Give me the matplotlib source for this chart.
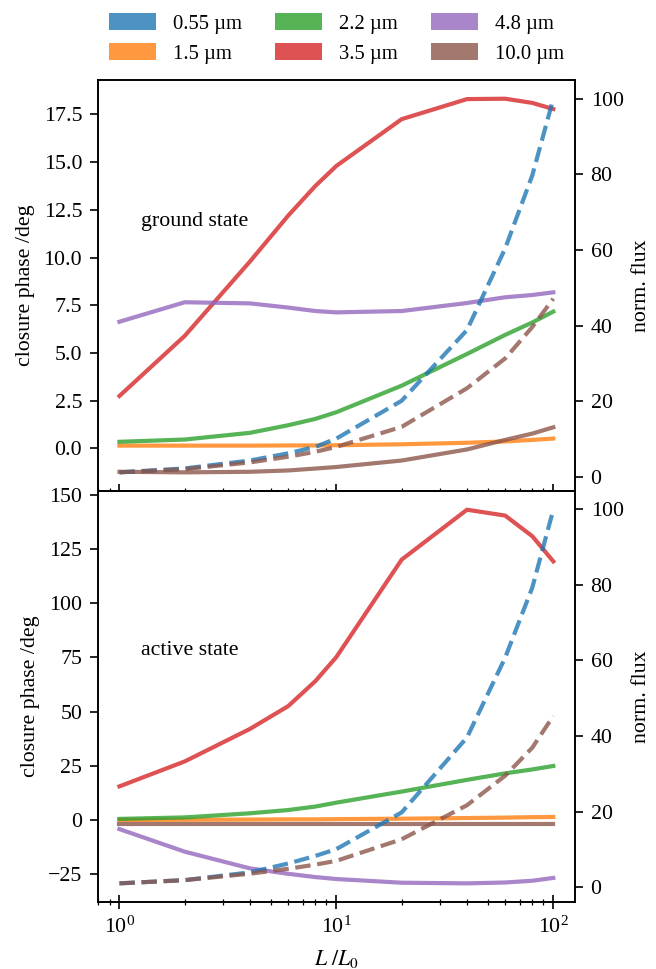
import matplotlib
matplotlib.use("Agg")
import matplotlib.pyplot as plt
from matplotlib.patches import Patch

plt.rcParams['font.family'] = ['Liberation Serif', 'DejaVu Serif']
plt.rcParams['mathtext.fontset'] = 'stix'
plt.rcParams['font.size'] = 10.5

# luminosity steps
L = [1, 2, 4, 6, 8, 10, 20, 40, 60, 80, 100]
labels = ['0.55 µm', '1.5 µm', '2.2 µm', '3.5 µm', '4.8 µm', '10.0 µm']
colors = ['tab:blue', 'tab:orange', 'tab:green', 'tab:red', 'tab:purple', 'tab:brown']

# ground state closure phase (deg)
cp_g_15 = [0.15, 0.15, 0.15, 0.16, 0.16, 0.17, 0.22, 0.30, 0.37, 0.45, 0.52]
cp_g_22 = [0.35, 0.47, 0.82, 1.22, 1.55, 1.90, 3.29, 4.95, 5.95, 6.60, 7.17]
cp_g_35 = [2.75, 5.9, 9.8, 12.2, 13.75, 14.8, 17.25, 18.3, 18.32, 18.1, 17.78]
cp_g_48 = [6.64, 7.66, 7.60, 7.38, 7.20, 7.13, 7.20, 7.62, 7.92, 8.04, 8.18]
cp_g_100 = [-1.22, -1.25, -1.22, -1.15, -1.05, -0.97, -0.63, -0.05, 0.45, 0.78, 1.11]
# ground state normalised flux
fl_g_055 = [1.16, 2.2, 4.3, 6.2, 7.9, 10.1, 20.1, 38.8, 60.4, 79.7, 100.0]
fl_g_100 = [1.16, 2.0, 3.8, 5.3, 6.6, 7.9, 13.2, 23.4, 31.3, 39.6, 47.1]

# active state closure phase (deg)
cp_a_15 = [0.0, 0.1, 0.2, 0.3, 0.3, 0.4, 0.6, 0.9, 1.1, 1.3, 1.4]
cp_a_22 = [0.5, 1.2, 3.1, 4.6, 6.2, 8.0, 13.1, 18.5, 21.5, 23.3, 24.9]
cp_a_35 = [15.5, 27.0, 42.0, 52.5, 64.0, 75.1, 120.0, 143.0, 140.3, 130.8, 119.2]
cp_a_48 = [-4.2, -14.6, -22.3, -24.8, -26.3, -27.2, -28.9, -29.2, -28.8, -28.0, -26.7]
cp_a_100 = [-2.0, -2.0, -2.0, -2.0, -2.0, -2.0, -2.0, -2.0, -2.0, -2.0, -2.0]
# active state normalised flux
fl_a_055 = [1.05, 1.9, 3.96, 6.3, 8.3, 10.1, 19.8, 39.6, 60.7, 79.2, 99.8]
fl_a_100 = [1.05, 1.9, 3.6, 4.9, 6.0, 7.0, 12.7, 21.7, 29.5, 36.9, 45.3]

fig = plt.figure(figsize=(656 / 150, 969 / 150), dpi=150)
axs = fig.subplots(2, 1, sharex=True, gridspec_kw={'hspace': 0})
fig.subplots_adjust(left=0.149, right=0.8765, top=0.9174, bottom=0.0691)

lw = 2
a = 0.8
panels = [
    (axs[0], [cp_g_15, cp_g_22, cp_g_35, cp_g_48, cp_g_100], fl_g_055, fl_g_100, 'ground state', 0.655),
    (axs[1], [cp_a_15, cp_a_22, cp_a_35, cp_a_48, cp_a_100], fl_a_055, fl_a_100, 'active state', 0.611),
]
for ax, cps, f055, f100, name, ty in panels:
    for cp, c in zip(cps, colors[1:]):
        ax.plot(L, cp, color=c, lw=lw, alpha=a)
    ax.set_xscale('log')
    ax.set_ylabel('closure phase /deg')
    ax.text(0.09, ty, name, transform=ax.transAxes, va='center', ha='left')
    ax.tick_params(axis='x', which='major', direction='inout', length=6.5)
    ax.tick_params(axis='x', which='minor', direction='inout', length=3)
    ax.tick_params(axis='y', length=4)
    tw = ax.twinx()
    tw.plot(L, f055, color=colors[0], lw=lw, alpha=a, ls='--')
    tw.plot(L, f100, color=colors[5], lw=lw, alpha=a, ls='--')
    tw.set_ylabel('norm. flux')
    tw.set_yticks([0, 20, 40, 60, 80, 100])
    tw.tick_params(axis='y', length=4)

axs[1].set_xlabel(r'$L\ /L_0$', labelpad=5)

handles = [Patch(color=c, alpha=a, lw=0) for c in colors]
axs[0].legend(handles, labels, ncol=3, loc='lower center', bbox_to_anchor=(0.5, 0.995),
              frameon=False, fontsize=9.9, handlelength=2.3, handleheight=0.9,
              columnspacing=1.6, labelspacing=0.45)

fig.savefig('out.png', dpi=150)
